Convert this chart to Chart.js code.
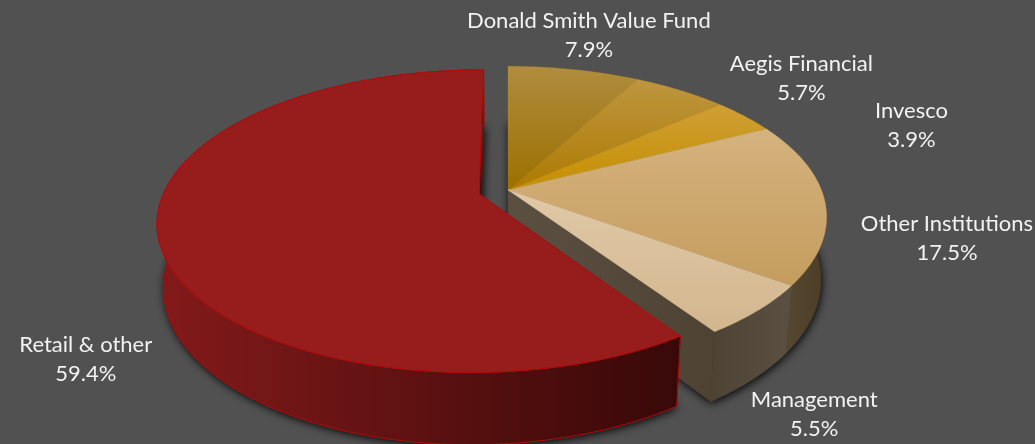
<!DOCTYPE html>
<html><head><meta charset="utf-8">
<script src="https://cdn.jsdelivr.net/npm/chart.js@4"></script>
<style>html,body{margin:0;padding:0;background:#515151;overflow:hidden}canvas{display:block}</style>
</head><body><canvas id="c" width="1035" height="444"></canvas>
<script>
const categories = ["Donald Smith Value Fund","Aegis Financial","Invesco","Other Institutions","Management","Retail & other"];
const shares = [7.9,5.7,3.9,17.5,5.5,59.4];
const shareLabels = ["7.9%","5.7%","3.9%","17.5%","5.5%","59.4%"];
const explode = [0,0,0,0,0,0.095];
const sliceRadius = [1,1,1,1,1,0.992];
const topLight = ["#b08c3e","#be9640","#cf9f35","#d5b37e","#e1c9a7","#971c1c"];
const topDark  = ["#9c7000","#ad7a00","#c68f00","#c49c5e","#d2b68e","#971c1c"];
const wallLeft  = ["#52432c","#52432c","#52432c","#5b4e35","#4e4333","#831a1a"];
const wallRight = ["#4e3f28","#4e3f28","#4e3f28","#4c3d26","#5a4f41","#380808"];
const rimColor = [null,null,null,null,null,"#b30a0a"];
const labelNudgeX = [15,121,167,122,56,-73];
const labelNudgeY = [-34,-12,9,37,104,120];

const cam = {cx:508,cy:190,R:315,Rk:146,D:63.5,s:0.18,q:0.005,t:0.018};
function proj(X,Y,Z){
  const w = 1 - cam.s*Y + cam.q*X + cam.t*Z;
  return [cam.cx + cam.R*X/w, cam.cy + (cam.Rk*Y + cam.D*Z)/w];
}
function poly(ctx,pts){ctx.beginPath();pts.forEach((p,i)=>i?ctx.lineTo(p[0],p[1]):ctx.moveTo(p[0],p[1]));ctx.closePath();}
function sliceGeom(el,i){
  const a0 = el.startAngle + Math.PI/2, a1 = el.endAngle + Math.PI/2;
  const mid = (a0+a1)/2, e = explode[i], r = sliceRadius[i];
  const ox = Math.sin(mid)*e, oy = -Math.cos(mid)*e;
  const arc = [];
  const n = Math.max(4,Math.ceil((a1-a0)*60));
  for(let k=0;k<=n;k++){const a=a0+(a1-a0)*k/n;arc.push([ox+r*Math.sin(a),oy-r*Math.cos(a)]);}
  return {arc,ox,oy,mid,r};
}
class Pie3DController extends Chart.PieController {
  draw(){
    const ctx = this.chart.ctx, els = this.getMeta().data;
    const g = els.map(sliceGeom);
    const groups = [...new Set(explode)];
    groups.forEach(ex=>{
      const idx = els.map((_,i)=>i).filter(i=>explode[i]===ex);
      // floor with soft shadow
      ctx.save();
      ctx.shadowColor='rgba(0,0,0,0.95)';ctx.shadowBlur=9;ctx.shadowOffsetX=1;ctx.shadowOffsetY=2;
      ctx.fillStyle='#222';
      idx.forEach(i=>{
        const pts=[proj(g[i].ox,g[i].oy,1),...g[i].arc.map(p=>proj(p[0],p[1],1))];
        poly(ctx,pts);ctx.fill();
      });
      ctx.restore();
      // cut walls at group borders
      idx.forEach(i=>{
        const N=els.length, G=g[i];
        [[(i+N-1)%N,G.arc[0]],[(i+1)%N,G.arc[G.arc.length-1]]].forEach(([nb,p])=>{
          if(explode[nb]===ex) return;
          const pts=[proj(G.ox,G.oy,0),proj(p[0],p[1],0),proj(p[0],p[1],1),proj(G.ox,G.oy,1)];
          const gr=ctx.createLinearGradient(pts[0][0],0,pts[1][0]+1,0);
          gr.addColorStop(0,wallRight[i]);gr.addColorStop(1,wallLeft[i]);
          ctx.fillStyle=gr;poly(ctx,pts);ctx.fill();
        });
      });
      // outer walls
      idx.forEach(i=>{
        const G=g[i];
        const topE=G.arc.map(p=>proj(p[0],p[1],0)), botE=G.arc.map(p=>proj(p[0],p[1],1)).reverse();
        const pts=[...topE,...botE];
        const xs=pts.map(p=>p[0]);
        const gr=ctx.createLinearGradient(Math.min(...xs),0,Math.max(...xs),0);
        gr.addColorStop(0,wallLeft[i]);gr.addColorStop(1,wallRight[i]);
        ctx.fillStyle=gr;poly(ctx,pts);ctx.fill();
        ctx.strokeStyle=gr;ctx.lineWidth=.6;ctx.stroke();
        if(rimColor[i]){ctx.strokeStyle=rimColor[i];ctx.lineWidth=1;ctx.stroke();}
      });
      // top faces
      idx.forEach(i=>{
        const G=g[i];
        const pts=[proj(G.ox,G.oy,0),...G.arc.map(p=>proj(p[0],p[1],0))];
        const ys=pts.map(p=>p[1]);
        const gr=ctx.createLinearGradient(0,Math.min(...ys),0,Math.max(...ys));
        gr.addColorStop(0,topLight[i]);gr.addColorStop(1,topDark[i]);
        ctx.fillStyle=gr;poly(ctx,pts);ctx.fill();
        ctx.strokeStyle=rimColor[i]||gr;ctx.lineWidth=rimColor[i]?1:.4;ctx.stroke();
      });
    });
    // labels
    ctx.save();
    ctx.fillStyle='#f2f2f2';ctx.font='22px Lato';ctx.textAlign='center';ctx.textBaseline='middle';
    els.forEach((el,i)=>{
      const G=g[i];
      const p=proj(G.ox+G.r*Math.sin(G.mid),G.oy-G.r*Math.cos(G.mid),0);
      const x=p[0]+labelNudgeX[i], y=p[1]+labelNudgeY[i];
      ctx.fillText(this.chart.data.labels[i],x,y-14.5);
      ctx.fillText(shareLabels[i],x,y+14.5);
    });
    ctx.restore();
  }
}
Pie3DController.id='pie3d';
Pie3DController.defaults=Chart.PieController.defaults;
Pie3DController.overrides=Chart.PieController.overrides;
Chart.register(Pie3DController);
new Chart(document.getElementById('c'),{
  type:'pie3d',
  data:{labels:categories,datasets:[{data:shares}]},
  options:{responsive:false,animation:false,layout:{padding:0},
    plugins:{legend:{display:false},tooltip:{enabled:false}}}
});
</script></body></html>
